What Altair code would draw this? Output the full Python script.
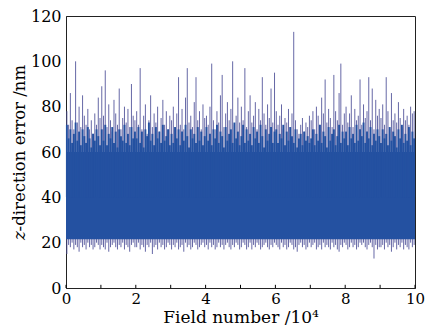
import altair as alt
import pandas as pd

# upper tip of each sample group (nm), 20 groups per 1e4 field numbers
hi = [
    78,72,86,74,70,100,73,80,71,85,76,72,79,70,74,68,77,72,84,75,
    89,76,96,71,81,74,69,83,77,72,88,70,75,80,73,79,71,90,76,74,
    78,72,97,70,76,81,68,74,85,71,77,73,80,69,75,83,72,78,70,76,
    74,80,71,77,93,72,79,70,84,97,73,76,71,82,93,74,78,70,81,75,
    76,72,80,99,74,70,78,73,85,94,71,77,82,74,79,100,72,76,84,73,
    80,74,97,71,78,85,73,76,82,70,79,74,93,77,72,81,75,88,73,95,
    78,72,76,81,70,75,73,79,71,77,113,74,70,68,72,75,69,73,71,76,
    74,78,70,80,76,72,84,77,92,73,79,75,71,94,78,74,86,99,72,77,
    80,73,77,85,71,79,74,76,92,72,81,75,78,93,74,88,70,83,76,79,
    75,81,72,93,78,70,86,74,77,73,82,75,71,79,74,76,72,80,77,78,
]
# top of the dense (solid) part of each group (nm)
mid = [
    72,66,70,64,68,73,65,69,63,70,67,64,71,66,62,68,65,70,67,63,
    70,65,72,63,68,66,71,64,69,62,70,67,65,72,64,68,63,71,66,69,
    66,71,64,69,62,70,67,73,65,68,63,71,66,69,64,72,65,67,70,63,
    68,64,71,66,70,63,69,65,72,67,62,70,66,68,64,71,65,69,63,67,
    71,65,68,63,70,66,72,64,69,67,62,71,65,68,70,64,73,66,69,63,
    67,72,64,70,65,68,63,71,66,69,64,72,67,62,70,65,68,71,64,69,
    70,64,68,66,72,63,69,65,71,67,64,70,62,66,68,63,69,65,67,64,
    66,70,63,68,65,72,64,69,67,62,71,65,68,70,63,67,72,64,69,66,
    69,63,71,66,68,64,72,65,70,67,73,64,69,66,71,63,68,65,70,67,
    64,70,66,68,63,71,65,69,67,62,70,66,72,64,68,65,71,63,69,66,
]
# lower tip of each sample group (nm)
lo = [
    15,19,18,20,17,19,18,16,20,18,19,17,20,18,19,17,18,20,19,17,
    19,18,17,20,16,18,19,20,18,17,19,18,20,17,19,18,16,19,20,18,
    18,20,17,19,18,16,19,18,20,15,18,19,17,20,18,19,17,18,20,19,
    17,19,18,20,17,18,19,16,20,18,19,17,18,20,19,17,18,19,20,18,
    19,17,20,18,19,17,18,20,18,19,17,19,20,18,17,19,18,20,19,17,
    18,20,19,17,18,20,17,19,18,20,19,17,18,19,20,18,17,19,18,20,
    19,18,17,20,18,19,17,18,20,19,17,18,16,19,20,18,19,17,18,20,
    18,19,20,17,18,19,17,20,18,19,18,17,20,18,19,17,16,19,18,20,
    19,17,18,20,18,19,17,18,20,19,20,18,17,19,20,18,13,19,17,18,
    18,19,17,20,18,19,16,18,20,17,19,18,20,17,19,18,17,20,18,19,
]
step = 0.05
xs = [round(i * step + step / 2, 4) for i in range(len(hi))]

# dense solid core band
core_x = [0, 1, 2, 3, 4, 5, 6, 7, 8, 9, 10]
core_lo = [21.5, 21.5, 21.5, 21.5, 21.5, 21.5, 21.5, 21.5, 21.5, 21.5, 21.5]
core_hi = [60, 60, 60, 60, 60, 60, 60, 60, 60, 60, 60]

x_ticks = [0, 1, 2, 3, 4, 5, 6, 7, 8, 9, 10]
y_ticks = [0, 20, 40, 60, 80, 100, 120]

BLUE = "#2451a1"
TIP = "#55579c"
FONT = "DejaVu Serif"

samples = pd.DataFrame({"x": xs, "lo": lo, "mid": mid, "hi": hi, "base": [40] * len(xs)})
core = pd.DataFrame({"x": core_x, "lo": core_lo, "hi": core_hi})
xt = pd.DataFrame({"x": x_ticks, "y0": [0] * len(x_ticks), "y1": [1.4] * len(x_ticks)})

xscale = alt.Scale(domain=[0, 10], nice=False, zero=False)
yscale = alt.Scale(domain=[0, 120], nice=False)

xaxis = alt.Axis(values=x_ticks, title="Field number /10⁴", format="d", tickSize=0,
                 labelPadding=3, titlePadding=3, grid=False, titleFontSize=17,
                 labelFlush=False, labelFontSize=15)
yaxis = alt.Axis(values=y_ticks, title="𝑧-direction error /nm", tickSize=0,
                 labelPadding=5, titlePadding=3, grid=False, titleFontSize=16.5,
                 labelFlush=False, labelFontSize=16)

thin = alt.Chart(samples).mark_rule(color=TIP, strokeWidth=0.9).encode(
    x=alt.X("x:Q", scale=xscale, axis=xaxis),
    y=alt.Y("lo:Q", scale=yscale, axis=yaxis),
    y2="hi:Q",
)
core_layer = alt.Chart(core).mark_area(color=BLUE, opacity=1).encode(
    x="x:Q", y="lo:Q", y2="hi:Q"
)
wide = alt.Chart(samples).mark_rule(color=BLUE, strokeWidth=1.9).encode(
    x="x:Q", y="base:Q", y2="mid:Q"
)
ticks = alt.Chart(xt).mark_rule(color="black", strokeWidth=1).encode(
    x="x:Q", y="y0:Q", y2="y1:Q"
)

chart = alt.layer(thin, core_layer, wide, ticks).properties(
    width=349, height=272,
    autosize=alt.AutoSizeParams(type="none"),
    padding={"left": 58, "top": 8, "right": 10, "bottom": 39},
).configure_view(stroke="#222", strokeWidth=1).configure_axis(
    labelFont=FONT, labelColor="black",
    titleFont=FONT, titleColor="black", titleFontWeight="normal",
    domainColor="#222",
)

chart.save("out.html", embed_options={"renderer": "svg", "actions": False})
